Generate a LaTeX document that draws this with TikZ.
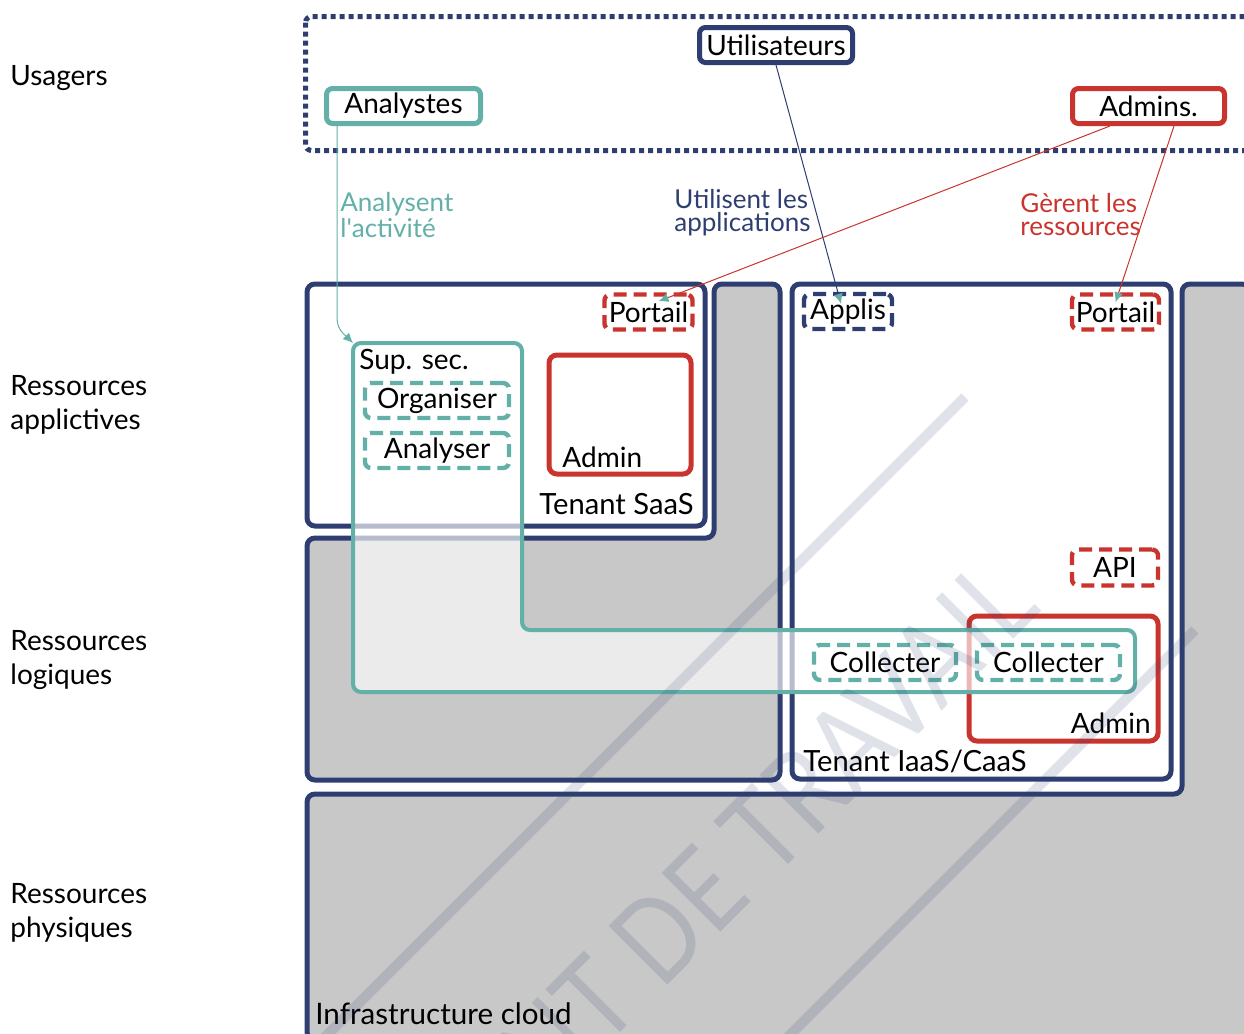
\documentclass[tikz,border=0pt]{standalone}
\usepackage{fontspec}
\setmainfont{Lato}
\newfontfamily\filigrane[FakeStretch=0.84]{Lato}
\usetikzlibrary{arrows.meta}

\definecolor{marine}{RGB}{47,62,112}
\definecolor{turquoise}{RGB}{98,176,168}
\definecolor{brique}{RGB}{201,52,46}
\definecolor{socle}{RGB}{200,200,200}

\begin{document}
\begin{tikzpicture}[
x=0.5pt, y=-0.5pt,
font=\fontsize{14}{17}\selectfont,
couche/.style={draw=marine, line width=2.5pt, rounded corners=4pt},
usager/.style={draw, line width=2.5pt, rounded corners=3pt, fill=white, inner sep=0pt, minimum height=17.5pt},
fonction/.style={draw, line width=2.2pt, rounded corners=3pt, dash pattern=on 6.5pt off 3.5pt, inner sep=0pt, minimum height=17.5pt},
admin/.style={draw=brique, line width=2.5pt, rounded corners=4pt},
lien/.style={-{Latex[length=5pt, width=4.5pt, color=turquoise]}, line width=0.5pt},
legende/.style={align=left, inner sep=0pt, font=\fontsize{13}{11.5}\selectfont},
etiquette/.style={inner sep=0pt},
filig/.style={marine, draw opacity=0.15, fill opacity=0.15, text opacity=0.15}
]
\useasboundingbox (0,0) rectangle (1244,1034);
\clip (0,0) rectangle (1244,1034);

% niveaux
\node[etiquette, anchor=west] (usagers) at (10,78) {Usagers};
\node[etiquette, anchor=west, align=left] (applicatives) at (10,405) {Ressources\\applictives};
\node[etiquette, anchor=west, align=left] (logiques) at (10,660) {Ressources\\logiques};
\node[etiquette, anchor=west, align=left] (physiques) at (10,913) {Ressources\\physiques};

% socles
\draw[couche, fill=socle] (307,1040) -- (307,794) -- (1182,794) -- (1182,284) -- (1250,284) -- (1250,1040) -- cycle;
\draw[couche, fill=socle] (307,780) -- (307,538) -- (714,538) -- (714,284) -- (780,284) -- (780,780) -- cycle;
\draw[couche, fill=white] (307,284) rectangle (705,526);
\draw[couche, fill=white] (792,284) rectangle (1171,779);
\draw[admin] (549,355) rectangle (691,474);
\draw[admin] (969,616) rectangle (1158,741);

\node[etiquette, anchor=base west] (adminsaas) at (562,467) {Admin};
\node[etiquette, anchor=base east, font=\fontsize{14.6}{17}\selectfont] (tenantsaas) at (694,514) {Tenant SaaS};
\node[etiquette, anchor=base east] (adminiaas) at (1151,733) {Admin};
\node[etiquette, anchor=base west, font=\fontsize{14.6}{17}\selectfont] (tenantiaas) at (803,771) {Tenant IaaS/CaaS};
\node[etiquette, anchor=base west, font=\fontsize{14.8}{17}\selectfont] (infra) at (315,1024) {Infrastructure cloud};

\node[fonction, draw=brique, minimum width=44pt] (portailsaas) at (648.5,312) {Portail};
\node[fonction, draw=marine, minimum width=44pt] (applis) at (848,311.5) {Applis};
\node[fonction, draw=brique, minimum width=43.5pt] (portailiaas) at (1115.5,312) {Portail};
\node[fonction, draw=brique, minimum width=43pt, minimum height=18pt] (api) at (1115,567.5) {API};

% supervision de securite
\draw[line width=2pt, draw=turquoise, fill=white, fill opacity=0.65, rounded corners=4pt] (353,343) -- (522,343) -- (522,630) -- (1135,630) -- (1135,692) -- (353,692) -- cycle;
\coordinate (supsec) at (353,343);
\node[etiquette, anchor=base west] (supsectitre) at (359,369) {Sup. sec.};
\node[fonction, draw=turquoise, minimum width=72pt] (organiser) at (437,400.5) {Organiser};
\node[fonction, draw=turquoise, minimum width=72pt] (analyser) at (437,450.5) {Analyser};
\node[fonction, draw=turquoise, minimum width=71pt] (collecter1) at (885,662.5) {Collecter};
\node[fonction, draw=turquoise, minimum width=71.5pt] (collecter2) at (1048.5,662.5) {Collecter};

% usagers
\draw[marine, line width=2.5pt, dash pattern=on 2.5pt off 2pt, rounded corners=3pt] (305.5,16.5) rectangle (1260,150.5);
\node[usager, draw=marine, minimum width=76.5pt] (utilisateurs) at (776,45) {Utilisateurs};
\node[usager, draw=turquoise, minimum width=77pt] (analystes) at (403.5,106) {Analystes};
\node[usager, draw=brique, minimum width=76pt] (admins) at (1148.5,106) {Admins.};

\draw[lien, turquoise] ([xshift=6.5pt]analystes.south west) -- ++(0,192) to[out=-90, in=135] (supsec);
\draw[lien, marine] (utilisateurs.south) -- ([xshift=-3.5pt, yshift=-6pt]applis.north);
\draw[lien, brique] ([xshift=20pt]admins.south west) -- ([xshift=5pt, yshift=-4.5pt]portailsaas.north);
\draw[lien, brique] ([xshift=52pt]admins.south west) -- ([yshift=-5pt]portailiaas.north);

\node[legende, text=turquoise, anchor=west] (analysent) at (340,215) {Analysent\\l\textquotesingle activité};
\node[legende, text=marine, anchor=west] (utilisent) at (674,213) {Utilisent les\\applications};
\node[legende, text=brique, anchor=west] (gerent) at (1020,215) {Gèrent les\\ressources};

% filigrane
\draw[filig, line width=5pt] (965,397) -- (300,1062);
\draw[filig, line width=5pt] (1195,630) -- (765,1060);
\node[filig, rotate=45, font=\filigrane\fontsize{58}{58}\selectfont] (travail) at (613,981) {DOCUMENT DE TRAVAIL};
\end{tikzpicture}
\end{document}
